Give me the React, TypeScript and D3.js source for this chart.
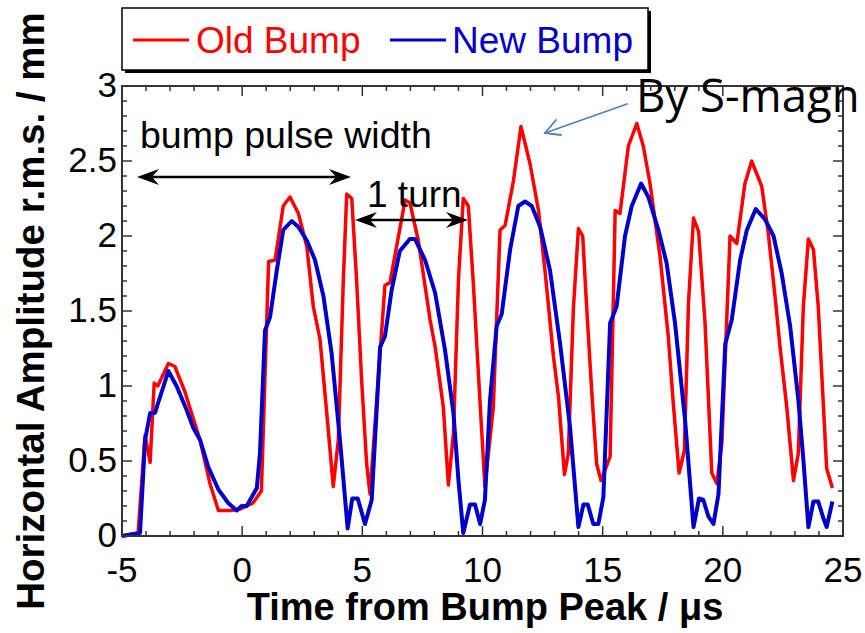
import React from "react";
import * as d3 from "d3";

// Old bump: time (µs) and horizontal amplitude (mm r.m.s.)
const oldBumpTime = [
  -5.0, -4.33, -4.04, -3.83, -3.66, -3.51, -3.07, -2.8, -2.38, -2.03, -1.75, -1.34, -0.99, -0.5,
  -0.08, 0.19, 0.45, 0.8, 1.1, 1.37, 1.71, 1.99, 2.34, 2.69, 2.96, 3.24, 3.52, 3.79, 4.0, 4.21,
  4.35, 4.56, 4.76, 4.97, 5.18, 5.32, 5.94, 6.15, 6.78, 6.98, 7.33, 7.82, 8.03, 8.37, 8.58, 8.79,
  9.0, 9.2, 9.41, 9.62, 9.83, 10.1, 10.45, 10.73, 10.94, 11.29, 11.6, 11.98, 12.33, 12.6, 12.95,
  13.16, 13.41, 13.57, 13.78, 13.99, 14.17, 14.34, 14.55, 14.75, 14.93, 15.1, 15.31, 15.52, 15.72,
  16.07, 16.42, 16.69, 16.97, 17.39, 17.73, 17.94, 18.18, 18.4, 18.57, 18.78, 18.99, 19.26, 19.54,
  19.75, 19.96, 20.3, 20.58, 20.92, 21.2, 21.62, 21.89, 22.17, 22.38, 22.66, 22.94, 23.14, 23.35,
  23.56, 23.77, 23.97, 24.32, 24.56,
];
const oldBumpAmp = [
  0.0, 0.02, 0.67, 0.49, 1.02, 1.0, 1.15, 1.13, 0.96, 0.78, 0.64, 0.35, 0.17, 0.17,
  0.18, 0.2, 0.22, 0.3, 1.83, 1.84, 2.2, 2.26, 2.15, 1.93, 1.53, 1.31, 0.82, 0.33, 0.64, 1.71,
  2.28, 2.25, 1.71, 1.04, 0.48, 0.28, 1.67, 1.69, 2.24, 2.22, 1.97, 1.44, 1.26, 0.86, 0.34, 0.68,
  1.71, 2.25, 2.2, 1.68, 1.08, 0.33, 0.86, 2.04, 2.07, 2.37, 2.73, 2.48, 2.17, 1.77, 1.2,
  0.93, 0.41, 0.55, 1.51, 2.05, 2.0, 1.51, 0.95, 0.48, 0.37, 0.44, 0.53, 2.17, 2.15,
  2.6, 2.75, 2.6, 2.35, 1.86, 1.33, 0.88, 0.42, 0.57, 1.55, 2.12, 2.03, 1.42, 0.42,
  0.35, 0.62, 2.0, 1.95, 2.35, 2.5, 2.33, 2.02, 1.6, 1.26, 0.86, 0.37, 0.55, 1.53,
  1.98, 1.91, 1.53, 0.45, 0.32,
];

// New bump: time (µs) and horizontal amplitude (mm r.m.s.)
const newBumpTime = [
  -5.0, -4.25, -4.04, -3.83, -3.63, -3.07, -2.73, -2.31, -2.03, -1.75, -1.41, -0.99, -0.58, -0.23,
  -0.02, 0.19, 0.33, 0.61, 0.74, 0.95, 1.16, 1.44, 1.71, 2.06, 2.34, 2.69, 3.03, 3.38, 3.72, 4.07,
  4.39, 4.58, 4.81, 5.11, 5.39, 5.74, 5.94, 6.22, 6.56, 6.98, 7.19, 7.61, 8.03, 8.44, 8.79, 9.0,
  9.2, 9.48, 9.69, 9.9, 10.1, 10.31, 10.59, 10.8, 11.15, 11.49, 11.77, 12.05, 12.4, 12.81, 13.23,
  13.64, 13.99, 14.2, 14.38, 14.61, 14.82, 15.03, 15.31, 15.58, 15.93, 16.21, 16.6, 16.9, 17.32,
  17.66, 18.01, 18.43, 18.78, 19.01, 19.19, 19.4, 19.61, 19.82, 20.1, 20.37, 20.72, 21.0, 21.37,
  21.76, 22.11, 22.45, 22.8, 23.14, 23.35, 23.56, 23.77, 23.97, 24.18, 24.32, 24.56,
];
const newBumpAmp = [
  0.0, 0.02, 0.64, 0.82, 0.82, 1.1, 1.0, 0.84, 0.72, 0.64, 0.46, 0.31, 0.22, 0.17,
  0.2, 0.2, 0.24, 0.32, 0.55, 1.37, 1.46, 1.77, 2.04, 2.1, 2.06, 1.97, 1.84, 1.6, 1.22, 0.64,
  0.05, 0.25, 0.25, 0.08, 0.24, 1.26, 1.33, 1.64, 1.9, 1.98, 1.98, 1.84, 1.62, 1.24, 0.82, 0.37,
  0.02, 0.21, 0.21, 0.08, 0.24, 0.9, 1.4, 1.48, 1.91, 2.2, 2.23, 2.2, 2.06, 1.77, 1.28,
  0.73, 0.06, 0.21, 0.21, 0.08, 0.08, 0.26, 1.42, 1.53, 2.0, 2.2, 2.35, 2.26, 2.04,
  1.82, 1.42, 0.77, 0.06, 0.25, 0.24, 0.13, 0.08, 0.28, 1.28, 1.44, 1.84, 2.04, 2.18,
  2.11, 2.0, 1.75, 1.4, 0.91, 0.51, 0.06, 0.23, 0.23, 0.12, 0.06, 0.23,
];

const xTickValues = [-5, 0, 5, 10, 15, 20, 25];
const yTickValues = [0, 0.5, 1, 1.5, 2, 2.5, 3];
const yTickLabels = ["0", "0.5", "1", "1.5", "2", "2.5", "3"];
const seriesNames = ["Old Bump", "New Bump"];

const W = 865;
const H = 633;
const plot = { left: 122, right: 843, top: 86, bottom: 536 };

const RED = "#ff0000";
const BLUE = "#0000cc";
const FRAME = "#333333";
const FONT = "'Liberation Sans', Arial, Helvetica, sans-serif";

// Barbed arrowhead pointing in direction dir (+1 right, -1 left) with tip at (x, y)
function headPath(x: number, y: number, dir: number) {
  const len = 22;
  const half = 8;
  const notch = 7;
  return `M${x},${y} L${x - dir * len},${y - half} L${x - dir * (len - notch)},${y} L${x - dir * len},${y + half} Z`;
}

function DoubleArrow({ x1, x2, y }: { x1: number; x2: number; y: number }) {
  return (
    <g>
      <line x1={x1 + 10} x2={x2 - 10} y1={y} y2={y} stroke="#000" strokeWidth={2.5} />
      <path d={headPath(x1, y, -1)} fill="#000" />
      <path d={headPath(x2, y, 1)} fill="#000" />
    </g>
  );
}

export default function App() {
  const x = d3.scaleLinear().domain([-5, 25]).range([plot.left, plot.right]);
  const y = d3.scaleLinear().domain([0, 3]).range([plot.bottom, plot.top]);

  const line = d3
    .line<[number, number]>()
    .x((d) => x(d[0]))
    .y((d) => y(d[1]));

  const oldPts = oldBumpTime.map((t, i) => [t, oldBumpAmp[i]] as [number, number]);
  const newPts = newBumpTime.map((t, i) => [t, newBumpAmp[i]] as [number, number]);

  const xMinor = d3.range(-5, 25.001, 1);
  const yMinor = d3.range(0, 3.0001, 0.1);

  const isMajorX = (v: number) => Math.abs(v / 5 - Math.round(v / 5)) < 1e-6;
  const isMajorY = (v: number) => Math.abs(v / 0.5 - Math.round(v / 0.5)) < 1e-6;

  return (
    <svg
      width={W}
      height={H}
      style={{ position: "absolute", left: 0, top: 0, background: "#fff" }}
      fontFamily={FONT}
    >
      <rect width={W} height={H} fill="#fff" />

      {/* ticks on all four sides, pointing inward */}
      <g stroke={FRAME} strokeWidth={1.5}>
        {xMinor.map((v, i) => {
          const len = isMajorX(v) ? 10 : 5;
          return (
            <g key={"xt" + i}>
              <line x1={x(v)} x2={x(v)} y1={plot.bottom} y2={plot.bottom - len} />
              <line x1={x(v)} x2={x(v)} y1={plot.top} y2={plot.top + len} />
            </g>
          );
        })}
        {yMinor.map((v, i) => {
          const len = isMajorY(v) ? 10 : 5;
          return (
            <g key={"yt" + i}>
              <line x1={plot.left} x2={plot.left + len} y1={y(v)} y2={y(v)} />
              <line x1={plot.right} x2={plot.right - len} y1={y(v)} y2={y(v)} />
            </g>
          );
        })}
      </g>

      {/* data */}
      <path d={line(oldPts) || ""} fill="none" stroke={RED} strokeWidth={3.5} strokeLinejoin="round" />
      <path d={line(newPts) || ""} fill="none" stroke={BLUE} strokeWidth={4} strokeLinejoin="round" />

      {/* frame */}
      <rect
        x={plot.left}
        y={plot.top}
        width={plot.right - plot.left}
        height={plot.bottom - plot.top}
        fill="none"
        stroke={FRAME}
        strokeWidth={2}
      />

      {/* tick labels */}
      <g fontSize={35} fill="#000">
        {xTickValues.map((v) => (
          <text key={"xl" + v} x={x(v)} y={plot.bottom + 46} textAnchor="middle">
            {String(v)}
          </text>
        ))}
        {yTickValues.map((v, i) => (
          <text key={"yl" + v} x={plot.left - 5} y={y(v) + 11} textAnchor="end">
            {yTickLabels[i]}
          </text>
        ))}
      </g>

      {/* axis titles */}
      <text x={485} y={620} textAnchor="middle" fontSize={38} fontWeight="bold">
        Time from Bump Peak / μs
      </text>
      <text
        transform={`translate(44,${311}) rotate(-90)`}
        textAnchor="middle"
        fontSize={38.5}
        fontWeight="bold"
      >
        Horizontal Amplitude r.m.s. / mm
      </text>

      {/* legend */}
      <rect x={125} y={11} width={526} height={62} fill="#000" />
      <rect x={122} y={8} width={526} height={62} fill="#fff" stroke="#000" strokeWidth={1.5} />
      <line x1={133} x2={189} y1={40} y2={40} stroke={RED} strokeWidth={3} />
      <text x={196} y={53} fontSize={37} fill={RED}>
        {seriesNames[0]}
      </text>
      <line x1={390} x2={446} y1={40} y2={40} stroke={BLUE} strokeWidth={3} />
      <text x={452} y={53} fontSize={37} fill={BLUE}>
        {seriesNames[1]}
      </text>

      {/* annotations */}
      <text x={140} y={148} fontSize={37.5} fill="#000">
        bump pulse width
      </text>
      <DoubleArrow x1={137} x2={351} y={177} />
      <text x={367} y={207} fontSize={37} fill="#000">
        1 turn
      </text>
      <DoubleArrow x1={355} x2={468} y={220} />

      <text x={636} y={112} fontSize={45.5} fontFamily="'Open Sans', sans-serif" fill="#000">
        By S-magn
      </text>
      <g stroke="#4f81bd" strokeWidth={1.8} fill="none" strokeLinecap="round">
        <line x1={627} y1={104} x2={545} y2={133} />
        <polyline points="556,120 545,133 561,135" />
      </g>
    </svg>
  );
}
